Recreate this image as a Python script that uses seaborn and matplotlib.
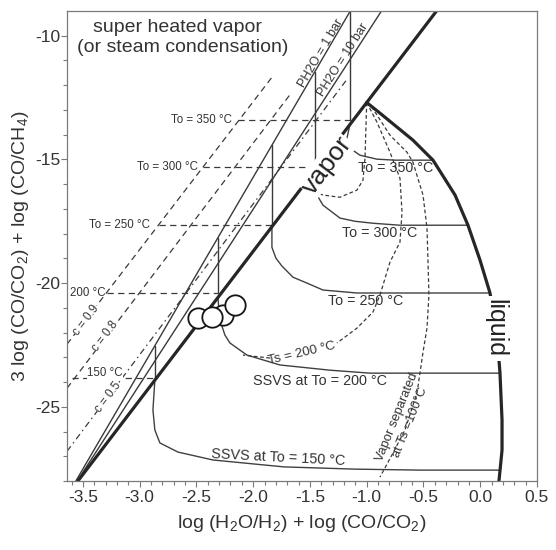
import numpy as np
import matplotlib
matplotlib.use("Agg")
import matplotlib.pyplot as plt
import seaborn as sns

# ---------------- data ----------------
vapor_x = [-3.544, -1.0, -0.385]
vapor_y = [-28.0, -12.7, -9.0]

liquid_x = [-1.0, -0.883, -0.593, -0.416, -0.222, -0.108, -0.002, 0.086, 0.148, 0.174, 0.192, 0.192, 0.165]
liquid_y = [-12.7, -13.13, -14.22, -15.03, -16.44, -17.66, -19.07, -20.40, -22.10, -23.64, -25.54, -26.75, -28.0]

ph1_x = [-3.562, -1.145]
ph1_y = [-28.0, -9.0]
ph10_x = [-3.55, -0.870]
ph10_y = [-28.0, -9.0]

c09_x = [-3.64, -1.835]
c09_y = [-22.47, -11.68]
c08_x = [-3.64, -1.659]
c08_y = [-24.25, -12.28]
c05_x = [-3.64, -1.18]
c05_y = [-26.80, -11.80]

to_labels = ["To = 350 °C", "To = 300 °C", "To = 250 °C", "200 °C", "150 °C"]
to_y = [-13.41, -15.31, -17.66, -20.40, -23.84]
to_x_start = [-2.134, -2.443, -2.830, -3.289, -3.597]
to_x_vert = [-1.148, -1.456, -1.835, -2.311, -2.866]
to_vert_top = [-9.03, -11.45, -14.43, -18.17, -22.53]

ssvs350_x = [-1.148, -1.174, -1.148, -1.059, -0.910, -0.751, -0.416]
ssvs350_y = [-13.59, -14.14, -14.55, -14.83, -14.99, -15.03, -15.03]
ssvs300_x = [-1.456, -1.465, -1.438, -1.385, -1.236, -1.104, -0.945, -0.707, -0.108]
ssvs300_y = [-15.44, -16.04, -16.44, -16.85, -17.37, -17.50, -17.58, -17.66, -17.66]
ssvs250_x = [-1.835, -1.835, -1.800, -1.747, -1.650, -1.526, -1.385, -1.086, 0.086]
ssvs250_y = [-17.72, -18.55, -18.99, -19.31, -19.76, -20.00, -20.28, -20.40, -20.40]
ssvs200_x = [-2.311, -2.293, -2.249, -2.205, -2.055, -1.764, -1.324, -0.971, 0.174]
ssvs200_y = [-20.58, -21.49, -22.10, -22.42, -22.91, -23.31, -23.52, -23.64, -23.64]
ssvs150_x = [-2.866, -2.883, -2.866, -2.822, -2.663, -2.355, -1.729, -1.104, -0.531, 0.176]
ssvs150_y = [-23.92, -25.13, -25.94, -26.46, -26.83, -27.15, -27.43, -27.52, -27.56, -27.56]

tsA_x = [-1.0, -1.007, -1.015, -1.033, -1.086, -1.236, -1.385, -1.456]
tsA_y = [-12.7, -13.74, -14.95, -15.84, -16.24, -16.53, -16.44, -16.32]
ts200_x = [-1.0, -0.910, -0.795, -0.707, -0.689, -0.707, -0.795, -0.883, -0.945, -1.086, -1.262]
ts200_y = [-12.7, -13.49, -14.71, -15.76, -17.13, -18.34, -19.15, -20.48, -21.17, -21.82, -22.42]
ts200b_x = [-1.852, -2.090]
ts200b_y = [-23.03, -22.91]
ts100_x = [-1.0, -0.954, -0.795, -0.645, -0.593, -0.504, -0.469, -0.460, -0.452, -0.469,
           -0.504, -0.531, -0.557, -0.663, -0.778, -0.883]
ts100_y = [-12.7, -12.89, -14.02, -14.71, -15.11, -16.44, -17.78, -19.15, -20.48, -21.82,
           -22.79, -23.64, -24.44, -25.94, -26.95, -27.84]

circle_x = [-2.487, -2.267, -2.161, -2.363]
circle_y = [-21.41, -21.29, -20.89, -21.37]

# ---------------- style ----------------
sns.set_style("ticks")
plt.rcParams["font.family"] = ["Liberation Sans", "DejaVu Sans"]
plt.rcParams["mathtext.fontset"] = "custom"
plt.rcParams["mathtext.rm"] = "Liberation Sans"
plt.rcParams["mathtext.it"] = "Liberation Sans:italic"
plt.rcParams["axes.unicode_minus"] = False

TXT = "#333333"
THICK = "#262626"
THIN = "#3a3a3a"
AX = "#7a7a7a"

fig = plt.figure(figsize=(5.56, 5.5), dpi=100)
ax = fig.add_axes([67 / 556, 69 / 550, 470 / 556, 470 / 550])


def line(x, y, **kw):
    sns.lineplot(x=np.asarray(x, float), y=np.asarray(y, float), sort=False,
                 estimator=None, ax=ax, legend=False, **kw)


# guide lines
line(c09_x, c09_y, color=THIN, lw=0.9, linestyle=(0, (5, 3.5)))
line(c08_x, c08_y, color=THIN, lw=0.9, linestyle=(0, (5, 3.5)))
line(c05_x, c05_y, color=THIN, lw=0.9, linestyle=(0, (5, 3, 1.2, 3)))
line(ph1_x, ph1_y, color=THIN, lw=1.0)
line(ph10_x, ph10_y, color=THIN, lw=1.0)

for xs, xv, ly, top in zip(to_x_start, to_x_vert, to_y, to_vert_top):
    line([xs, xv], [ly, ly], color=THIN, lw=0.9, linestyle=(0, (5, 3.5)))
    line([xv, xv], [top, ly], color=THIN, lw=1.0)

# SSVS curves
for cx, cy in [(ssvs350_x, ssvs350_y), (ssvs300_x, ssvs300_y), (ssvs250_x, ssvs250_y),
               (ssvs200_x, ssvs200_y), (ssvs150_x, ssvs150_y)]:
    line(cx, cy, color="#404040", lw=1.0)

# separation curves
for cx, cy in [(tsA_x, tsA_y), (ts200_x, ts200_y), (ts200b_x, ts200b_y), (ts100_x, ts100_y)]:
    line(cx, cy, color=THIN, lw=0.9, linestyle=(0, (3, 2)))

# boundaries
line(vapor_x, vapor_y, color=THICK, lw=2.3)
line(liquid_x, liquid_y, color=THICK, lw=2.3)

sns.scatterplot(x=circle_x, y=circle_y, s=215, facecolor="white", edgecolor="#151515",
                linewidth=1.3, ax=ax, zorder=6, legend=False)

# ---------------- axes ----------------
ax.set_xlim(-3.64, 0.5)
ax.set_ylim(-28, -9)
ax.set_xticks(np.arange(-3.5, 0.51, 0.5))
ax.set_xticklabels([f"{v:.1f}" for v in np.arange(-3.5, 0.51, 0.5)])
ax.set_xticks(np.arange(-3.6, 0.51, 0.1), minor=True)
ax.set_yticks([-25, -20, -15, -10])
ax.set_yticklabels(["-25", "-20", "-15", "-10"])
ax.set_yticks(np.arange(-28, -9, 1), minor=True)
for s in ax.spines.values():
    s.set_color(AX)
    s.set_linewidth(0.9)
ax.tick_params(which="both", direction="out", colors=AX, labelcolor=TXT, width=0.8)
ax.tick_params(which="major", length=4, labelsize=12.5)
ax.tick_params(axis="x", which="major", pad=2.5)
ax.tick_params(axis="y", which="major", pad=1)
ax.tick_params(which="minor", length=3)

ax.set_xlabel("log (H$_2$O/H$_2$) + log (CO/CO$_2$)", fontsize=14, color=TXT, labelpad=6)
ax.set_ylabel("3 log (CO/CO$_2$) + log (CO/CH$_4$)", fontsize=14, color=TXT, labelpad=3)

# ---------------- annotations ----------------
ax.text(-2.663, -9.65, "super heated vapor", fontsize=14, color=TXT, ha="center", va="center")
ax.text(-2.619, -10.48, "(or steam condensation)", fontsize=14, color=TXT, ha="center", va="center")

left_lab_x = [-2.187, -2.487, -2.910, -3.297]
for lab, lx, ly in zip(to_labels[:4], left_lab_x, to_y[:4]):
    ax.text(lx, ly, lab, fontsize=8.3, color=TXT, ha="right", va="center")
ax.text(-3.306, -23.64, to_labels[4], fontsize=8.3, color=TXT, ha="center", va="center",
        bbox=dict(facecolor="white", edgecolor="none", pad=0.3))

for lab, lx, ly in [("c = 0.9", -3.47, -21.50), ("c = 0.8", -3.30, -22.14), ("c = 0.5", -3.28, -24.60)]:
    ax.text(lx, ly, lab, fontsize=8.3, color=TXT, ha="center", va="center", rotation=52.8,
            bbox=dict(facecolor="white", edgecolor="none", pad=0.2))

ax.text(-1.403, -10.71, "PH2O = 1 bar", fontsize=9, color=TXT, ha="center", va="center", rotation=59.5)
ax.text(-1.209, -10.99, "PH2O = 10 bar", fontsize=9, color=TXT, ha="center", va="center", rotation=57.5)

ax.text(-1.350, -15.23, "vapor", fontsize=19, color="#222222", ha="center", va="center", rotation=52.8,
        zorder=5, bbox=dict(facecolor="white", edgecolor="none", pad=0.5))
ax.text(0.130, -21.82, "liquid", fontsize=18, color="#222222", ha="center", va="center", rotation=270,
        zorder=5, bbox=dict(facecolor="white", edgecolor="none", pad=2.5))

ax.text(-0.742, -15.35, "To = 350 °C", fontsize=10.3, color=TXT, ha="center", va="center")
ax.text(-0.883, -17.98, "To = 300 °C", fontsize=10.3, color=TXT, ha="center", va="center")
ax.text(-1.007, -20.73, "To = 250 °C", fontsize=10.3, color=TXT, ha="center", va="center")
ax.text(-1.570, -22.83, "Ts = 200 °C", fontsize=9.5, color=TXT, ha="center", va="center", rotation=13)
ax.text(-1.412, -23.96, "SSVS at To = 200 °C", fontsize=10.4, color=TXT, ha="center", va="center")
ax.text(-1.782, -27.07, "SSVS at To = 150 °C", fontsize=10.4, color=TXT, ha="center", va="center", rotation=-3)
ax.text(-0.672, -25.54, "Vapor separated\nat Ts =100°C", fontsize=9.3, color=TXT, ha="center",
        va="center", rotation=68, linespacing=1.25)

fig.savefig("out.png", dpi=100)
